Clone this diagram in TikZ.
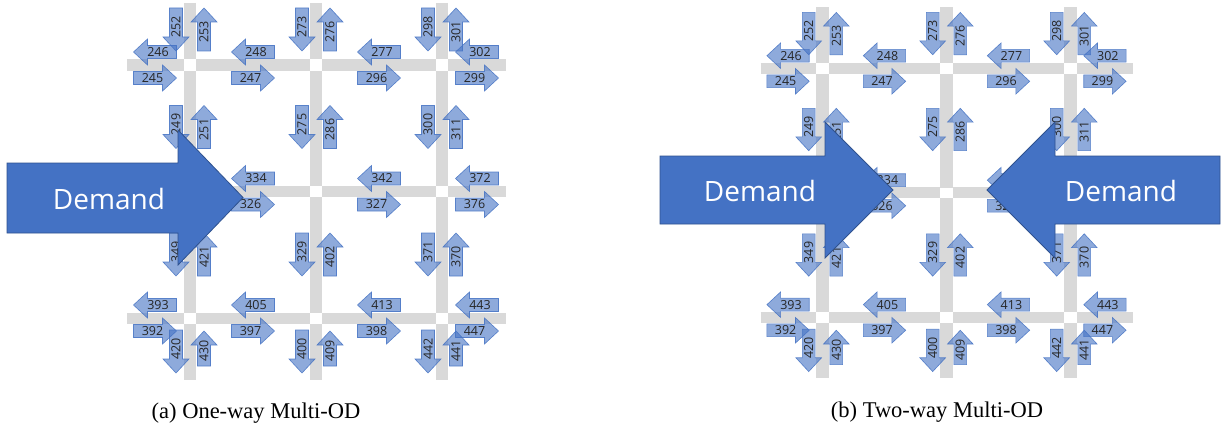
\documentclass[tikz,border=0pt]{standalone}
\usepackage{fontspec}
\setmainfont{Liberation Serif}
\newfontfamily\lblfont{Open Sans}
\definecolor{accentblue}{HTML}{4472C4}
\definecolor{demandedge}{HTML}{2F528F}
\definecolor{roadgray}{HTML}{D9D9D9}

\tikzset{
  hroad/.style={line width=11pt, roadgray},
  vroad/.style={line width=12.5pt, roadgray},
  flowarrow/.style={fill=accentblue, fill opacity=0.6, draw=accentblue, draw opacity=0.85, line width=0.6pt, line join=miter},
  flowlabel/.style={font=\lblfont\fontsize{12.5}{12.5}\selectfont, text=black!85, inner sep=0pt},
  demandarrow/.style={fill=accentblue, draw=demandedge, line width=0.8pt, line join=miter},
  demandlabel/.style={font=\lblfont\fontsize{28}{28}\selectfont, text=white, inner sep=0pt},
  subcaption/.style={font=\fontsize{22.5}{22.5}\selectfont, inner sep=0pt, anchor=base},
}

% flow arrows: #1 node name, #2 x, #3 y, #4 label
\newcommand\arrowR[4]{%
  \draw[flowarrow, shift={(#2,#3)}] (-21.5,-6.5) -- (7.5,-6.5) -- (7.5,-13) -- (21.5,0) -- (7.5,13) -- (7.5,6.5) -- (-21.5,6.5) -- cycle;
  \node[flowlabel] (#1) at (#2-2.5,#3) {#4};}
\newcommand\arrowL[4]{%
  \draw[flowarrow, shift={(#2,#3)}] (21.5,-6.5) -- (-7.5,-6.5) -- (-7.5,-13) -- (-21.5,0) -- (-7.5,13) -- (-7.5,6.5) -- (21.5,6.5) -- cycle;
  \node[flowlabel] (#1) at (#2+3,#3) {#4};}
\newcommand\arrowD[4]{%
  \draw[flowarrow, shift={(#2,#3)}] (-6.5,-21.5) -- (-6.5,7.5) -- (-13,7.5) -- (0,21.5) -- (13,7.5) -- (6.5,7.5) -- (6.5,-21.5) -- cycle;
  \node[flowlabel, rotate=90] (#1) at (#2,#3-2.5) {#4};}
% #5 half length
\newcommand\arrowU[5]{%
  \draw[flowarrow, shift={(#2,#3)}] (-6.5,#5) -- (-6.5,-#5+14) -- (-13,-#5+14) -- (0,-#5) -- (13,-#5+14) -- (6.5,-#5+14) -- (6.5,#5) -- cycle;
  \node[flowlabel, rotate=90] (#1) at (#2,#3+2.5) {#4};}

% 3x3 road grid with link flows; origin at the upper-left crossing
\newcommand\gridpanel[1]{%
  \foreach \yy in {0,126.5,253} \draw[hroad] (-63,\yy) -- (315.5,\yy);
  \foreach \xx in {0,126,252} \draw[vroad] (\xx,-62) -- (\xx,315);
  \foreach \xx in {0,126,252} \foreach \yy in {0,126.5,253}
    \fill[white] (\xx-6.25,\yy-5.5) rectangle (\xx+6.25,\yy+5.5);
  % horizontal links
  \arrowL{#1-246}{-35}{-13}{246}   \arrowR{#1-245}{-35}{13}{245}
  \arrowL{#1-248}{63}{-13}{248}    \arrowR{#1-247}{63}{13}{247}
  \arrowL{#1-277}{189}{-13}{277}   \arrowR{#1-296}{189}{13}{296}
  \arrowL{#1-302}{287}{-13}{302}   \arrowR{#1-299}{287}{13}{299}
  \arrowL{#1-334}{63}{113.5}{334}  \arrowR{#1-326}{63}{139.5}{326}
  \arrowL{#1-342}{189}{113.5}{342} \arrowR{#1-327}{189}{139.5}{327}
  \arrowL{#1-393}{-35}{240}{393}   \arrowR{#1-392}{-35}{266}{392}
  \arrowL{#1-405}{63}{240}{405}    \arrowR{#1-397}{63}{266}{397}
  \arrowL{#1-413}{189}{240}{413}   \arrowR{#1-398}{189}{266}{398}
  \arrowL{#1-443}{287}{240}{443}   \arrowR{#1-447}{287}{266}{447}
  % vertical links
  \arrowD{#1-252}{-14}{-35.5}{252}  \arrowU{#1-253}{14}{-35.5}{253}{21.5}
  \arrowD{#1-249}{-14}{62}{249}     \arrowU{#1-251}{14}{62}{251}{21.5}
  \arrowD{#1-349}{-14}{189.5}{349}  \arrowU{#1-421}{14}{189.5}{421}{21.5}
  \arrowD{#1-420}{-14}{286.5}{420}  \arrowU{#1-430}{14}{283.5}{430}{17.5}
  \arrowD{#1-273}{112}{-35.5}{273}  \arrowU{#1-276}{140}{-35.5}{276}{21.5}
  \arrowD{#1-275}{112}{62}{275}     \arrowU{#1-286}{140}{62}{286}{21.5}
  \arrowD{#1-329}{112}{189.5}{329}  \arrowU{#1-402}{140}{189.5}{402}{21.5}
  \arrowD{#1-400}{112}{286.5}{400}  \arrowU{#1-409}{140}{283.5}{409}{17.5}
  \arrowD{#1-298}{238}{-35.5}{298}  \arrowU{#1-301}{266}{-35.5}{301}{21.5}
  \arrowD{#1-300}{238}{62}{300}     \arrowU{#1-311}{266}{62}{311}{21.5}
  \arrowD{#1-371}{238}{189.5}{371}  \arrowU{#1-370}{266}{189.5}{370}{21.5}
  \arrowD{#1-442}{238}{286.5}{442}  \arrowU{#1-441}{266}{283.5}{441}{17.5}
}

\begin{document}
\begin{tikzpicture}[x=1pt, y=-1pt]
  \fill[white] (0,0) rectangle (1230,428);
  \useasboundingbox (0,0) rectangle (1230,428);

  % (a) one-way demand
  \begin{scope}[shift={(190,65)}]
    \gridpanel{a}
    \arrowL{a-372}{287}{113.5}{372}
    \arrowR{a-376}{287}{139.5}{376}
  \end{scope}
  \draw[demandarrow] (7,163) -- (178,163) -- (178,130) -- (243,197.5) -- (178,265) -- (178,233) -- (7,233) -- cycle;
  \node[demandlabel] (dmdA) at (109,199) {Demand};
  \node[subcaption] (capA) at (256,418) {(a) One-way Multi-OD};

  % (b) two-way demand
  \begin{scope}[shift={(822.5,68.5)}, scale=0.984]
    \gridpanel{b}
  \end{scope}
  \draw[demandarrow] (660,156) -- (825,156) -- (825,122) -- (893,190) -- (825,258) -- (825,224) -- (660,224) -- cycle;
  \node[demandlabel] (dmdBL) at (760,191) {Demand};
  \draw[demandarrow] (1220,156) -- (1055,156) -- (1055,122) -- (987,190) -- (1055,258) -- (1055,224) -- (1220,224) -- cycle;
  \node[demandlabel] (dmdBR) at (1121,191) {Demand};
  \node[subcaption] (capB) at (937,417) {(b) Two-way Multi-OD};
\end{tikzpicture}
\end{document}
